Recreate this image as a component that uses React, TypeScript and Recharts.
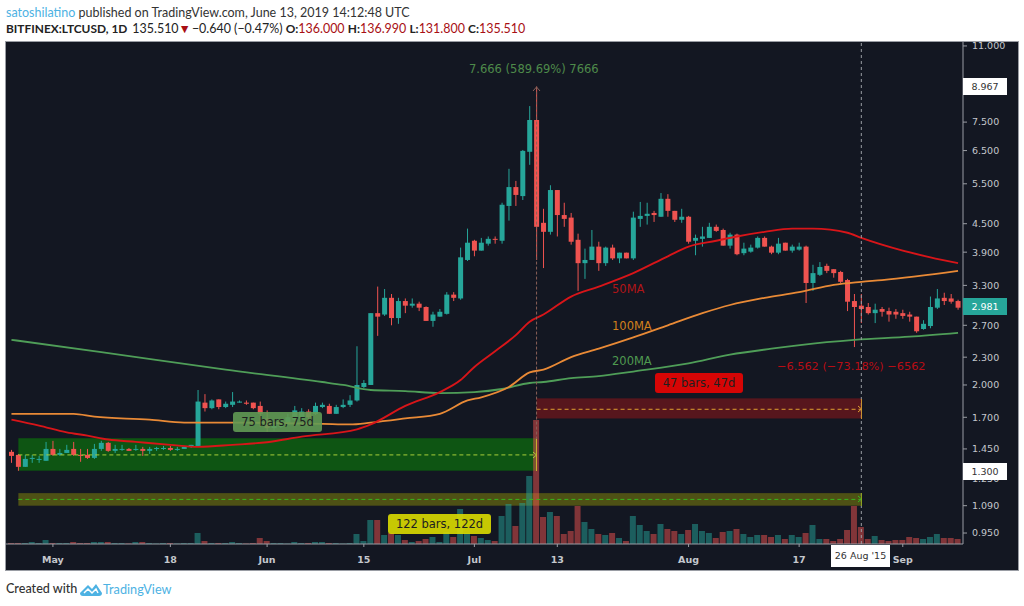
import { ComposedChart, Bar, Cell, Line, XAxis, YAxis, ReferenceArea, ReferenceLine } from 'recharts';

// LTCUSD daily candles, 25 Apr 2015 to 9 Sep 2015
const opens = [
  1.429,1.407,1.325,1.379,1.372,1.366,1.450,1.407,1.421,1.450,
  1.407,1.407,1.386,1.450,1.495,1.436,1.443,1.450,1.443,1.450,
  1.436,1.450,1.450,1.457,1.443,1.450,1.465,1.472,1.83,1.78,
  1.86,1.79,1.81,1.83,1.83,1.83,1.80,1.69,1.61,1.62,
  1.64,1.68,1.69,1.75,1.73,1.79,1.80,1.73,1.79,1.81,
  1.85,1.98,2.00,2.87,2.85,3.10,2.80,3.05,2.98,3.01,
  2.96,2.76,2.82,2.86,3.15,3.09,3.75,4.13,3.93,4.07,
  4.17,4.13,4.92,5.41,5.17,6.46,7.58,4.52,4.32,5.33,
  4.70,4.64,4.15,3.69,3.75,4.01,3.69,3.99,3.78,3.89,
  3.78,4.61,4.68,4.75,4.66,5.10,4.80,4.59,4.66,4.13,
  4.17,4.19,4.43,4.36,4.03,4.26,3.88,3.91,3.99,4.19,
  4.01,3.89,4.09,3.93,3.95,4.01,3.34,3.48,3.64,3.58,
  3.53,3.39,3.05,2.98,2.96,2.87,2.93,2.90,2.89,2.87,
  2.85,2.82,2.65,2.69,2.95,3.10,3.09,3.05,
];
const highs = [
  1.443,1.414,1.407,1.407,1.400,1.502,1.510,1.450,1.480,1.502,
  1.450,1.450,1.487,1.510,1.502,1.480,1.480,1.457,1.480,1.465,
  1.465,1.465,1.472,1.472,1.465,1.472,1.480,1.95,1.91,1.86,
  1.86,1.84,1.93,1.85,1.85,1.83,1.84,1.76,1.66,1.67,
  1.73,1.80,1.78,1.77,1.83,1.83,1.82,1.81,1.86,1.90,
  2.43,2.05,2.87,3.28,3.24,3.16,3.10,3.09,3.09,3.04,
  2.97,2.89,2.93,3.19,3.19,3.99,4.39,4.15,4.19,4.22,
  4.22,5.00,5.93,5.58,6.52,8.13,8.967,4.85,5.46,5.33,
  5.00,4.75,4.28,3.97,4.36,4.11,4.01,4.05,3.89,3.89,
  4.78,5.02,5.00,4.80,5.25,5.22,4.80,4.85,4.68,4.26,
  4.43,4.52,4.48,4.39,4.30,4.28,4.09,4.05,4.22,4.22,
  4.03,4.19,4.09,4.05,4.09,4.03,3.66,3.71,3.68,3.58,
  3.55,3.41,3.16,3.16,3.02,3.01,2.96,2.95,2.93,2.92,
  2.89,2.82,2.77,3.12,3.24,3.18,3.16,3.07,
];
const lows = [
  1.352,1.299,1.325,1.352,1.352,1.366,1.400,1.400,1.421,1.400,
  1.359,1.379,1.379,1.436,1.429,1.421,1.436,1.436,1.436,1.400,
  1.414,1.436,1.443,1.436,1.436,1.450,1.457,1.472,1.75,1.77,
  1.77,1.78,1.79,1.83,1.81,1.77,1.62,1.58,1.59,1.61,
  1.64,1.67,1.68,1.68,1.72,1.78,1.73,1.73,1.78,1.79,
  1.84,1.97,2.00,2.56,2.83,2.70,2.72,2.87,2.95,2.90,
  2.76,2.68,2.82,2.85,3.05,3.07,3.73,3.82,3.93,4.03,
  4.07,4.07,4.57,4.92,5.07,6.05,3.75,3.60,4.26,4.22,
  4.43,4.05,3.21,3.41,3.75,3.55,3.64,3.75,3.69,3.78,
  3.75,4.43,4.48,4.54,4.66,4.66,4.54,4.52,4.07,3.84,
  4.01,4.19,4.32,4.03,3.97,3.84,3.84,3.89,3.97,4.01,
  3.86,3.86,3.93,3.89,3.93,3.02,3.21,3.46,3.51,3.43,
  3.34,2.90,2.42,2.73,2.85,2.73,2.82,2.75,2.79,2.79,
  2.75,2.60,2.64,2.66,2.93,2.99,3.01,2.92,
];
const closes = [
  1.400,1.325,1.379,1.386,1.379,1.450,1.407,1.421,1.443,1.407,
  1.400,1.386,1.450,1.495,1.436,1.450,1.450,1.436,1.450,1.436,
  1.450,1.457,1.457,1.443,1.450,1.465,1.480,1.84,1.78,1.85,
  1.79,1.82,1.84,1.84,1.82,1.78,1.73,1.61,1.63,1.64,
  1.70,1.76,1.75,1.70,1.80,1.81,1.73,1.79,1.81,1.85,
  2.00,2.02,2.87,2.82,3.10,2.80,3.05,2.98,3.01,2.95,
  2.76,2.85,2.89,3.15,3.10,3.80,4.09,3.93,4.09,4.17,
  4.15,4.95,5.41,5.20,6.49,7.58,4.43,4.32,5.33,4.70,
  4.61,4.11,3.69,3.75,4.01,3.69,3.99,3.78,3.89,3.78,
  4.64,4.68,4.73,4.70,5.10,4.80,4.59,4.66,4.11,4.19,
  4.22,4.43,4.34,4.03,4.26,3.86,3.97,3.99,4.19,4.01,
  3.89,4.07,3.93,4.01,4.01,3.34,3.51,3.62,3.55,3.51,
  3.36,3.04,2.96,2.93,2.87,2.92,2.89,2.85,2.85,2.83,
  2.82,2.62,2.72,2.96,3.09,3.05,3.04,2.95,
];
const volumes = [
  1,1,1,2,1,4,1,1,1,2,
  1,1,2,2,2,1,1,0.5,2,2,
  1,0.5,1,1,0.5,1,1,11,3,1,
  1,1,2,1,0.5,1,6,3,1,1,
  0.5,2,1,1,2,2,1,1,0.5,1,
  10,3,24,24,9,11,9,4,2,3,
  5,7,2,12,7,35,11,8,6,4,
  3,28,40,18,41,68,124,27,32,28,
  10,13,38,22,15,10,9,11,6,3,
  28,19,13,10,20,15,13,10,14,20,
  13,11,6,12,13,15,10,7,9,9,
  7,9,5,9,7,11,19,5,5,3,
  5,14,38,17,5,8,4,3,4,4,
  7,6,5,7,10,6,6,5,
];

const ma50Bars = [0,4,8,11,14,18,23,27,32,37,42,50,52,57,62,65,67,70,73,75,77,81,85,90,95,98,102,105,109,113,116,121,123,129,133,137];
const ma50Values = [1.68,1.63,1.576,1.55,1.52,1.502,1.48,1.465,1.48,1.50,1.543,1.60,1.64,1.80,1.93,2.05,2.19,2.37,2.57,2.75,2.85,3.12,3.28,3.51,3.82,4.01,4.13,4.22,4.32,4.39,4.39,4.30,4.19,3.93,3.80,3.69];
const ma100Bars = [0,9,12,20,25,32,45,49,52,57,62,66,68,72,75,77,81,85,90,95,100,104,109,114,119,123,126,137];
const ma100Values = [1.73,1.73,1.705,1.68,1.655,1.655,1.645,1.64,1.655,1.69,1.73,1.85,1.88,1.98,2.13,2.16,2.30,2.40,2.54,2.70,2.87,2.99,3.10,3.19,3.31,3.36,3.39,3.55];
const ma200Bars = [0,13,31,45,48,52,57,62,67,71,75,77,81,85,90,98,104,110,118,122,130,137];
const ma200Values = [2.51,2.36,2.16,2.03,2.00,1.95,1.94,1.92,1.93,1.96,2.02,2.03,2.07,2.09,2.14,2.23,2.33,2.40,2.48,2.51,2.55,2.60];

const priceTicks = [11, 7.5, 6.5, 5.5, 4.5, 3.9, 3.3, 2.7, 2.3, 2, 1.7, 1.45, 1.25, 1.09, 0.95];
const timeTicks = ['2015-05-01', '2015-05-18', '2015-06-01', '2015-06-15', '2015-07-01', '2015-07-13', '2015-08-01', '2015-08-17', '2015-09-01'];
const timeLabels = ['May', '18', 'Jun', '15', 'Jul', '13', 'Aug', '17', 'Sep'];

const UP = '#26a69a';
const DOWN = '#ef5350';
const BG = '#131722';
const AXIS = '#9a9da4';
const TEXT = '#c4c7cd';
const FONT = '"DejaVu Sans", sans-serif';
const HEAD_FONT = 'Lato, sans-serif';

const dayMs = 86400000;
const firstDay = Date.UTC(2015, 3, 25);
const dates = opens.map((_, i) => new Date(firstDay + i * dayMs).toISOString().slice(0, 10));

const data = dates.map((date, i) => {
  const m50 = ma50Bars.indexOf(i);
  const m100 = ma100Bars.indexOf(i);
  const m200 = ma200Bars.indexOf(i);
  return {
    date,
    open: opens[i],
    high: highs[i],
    low: lows[i],
    close: closes[i],
    range: [lows[i], highs[i]],
    volume: volumes[i],
    ma50: m50 >= 0 ? ma50Values[m50] : null,
    ma100: m100 >= 0 ? ma100Values[m100] : null,
    ma200: m200 >= 0 ? ma200Values[m200] : null,
  };
});

// The bar spans low..high on the log axis, open and close are placed inside it
const Candle = (props: any) => {
  const { x, y, width, height, payload } = props;
  const { open, close, high, low } = payload;
  const top = Math.min(y, y + height);
  const span = Math.abs(height);
  const toY = (v: number) => top + ((Math.log(high) - Math.log(v)) / (Math.log(high) - Math.log(low))) * span;
  const color = close >= open ? UP : DOWN;
  const bodyTop = toY(Math.max(open, close));
  const bodyH = Math.max(toY(Math.min(open, close)) - bodyTop, 1);
  const cx = x + width / 2;
  return (
    <g>
      <line x1={cx} x2={cx} y1={top} y2={top + span} stroke={color} strokeWidth={1} />
      <rect x={x} y={bodyTop} width={width} height={bodyH} fill={color} />
    </g>
  );
};

// ReferenceArea spans whole bands; the drawing tool boxes run from bar centre to bar centre
const BAND = 6.91;
const CentredRect = (props: any) => {
  const { x, y, width, height, fill, fillOpacity } = props;
  return <rect x={x + BAND / 2} y={y} width={width - BAND} height={height} fill={fill} fillOpacity={fillOpacity} />;
};

const timeTickFormat = (v: string) => timeLabels[timeTicks.indexOf(v)] ?? '';

const anno = (left: number, top: number, color: string, size = 11.5): React.CSSProperties => ({
  position: 'absolute',
  left,
  top,
  color,
  fontFamily: FONT,
  fontSize: size,
  lineHeight: '16px',
  whiteSpace: 'nowrap',
});

const box = (left: number, top: number, width: number, height: number, background: string): React.CSSProperties => ({
  position: 'absolute',
  left,
  top,
  width,
  height,
  background,
  borderRadius: 3,
  color: '#1c2020',
  fontFamily: FONT,
  fontSize: 11.5,
  lineHeight: `${height}px`,
  textAlign: 'center',
  whiteSpace: 'nowrap',
});

const priceTag = (top: number, background: string, color: string): React.CSSProperties => ({
  position: 'absolute',
  left: 963,
  top,
  width: 44,
  height: 17,
  background,
  color,
  fontFamily: FONT,
  fontSize: 9.5,
  lineHeight: '17px',
  textAlign: 'center',
});

const headBold: React.CSSProperties = { fontSize: 11.9, fontWeight: 700 };
const headRed: React.CSSProperties = { color: '#a80f14' };

export default function App() {
  return (
    <div style={{ position: 'relative', width: 1024, height: 606, background: '#fff', overflow: 'hidden' }}>
      <style>{'body{margin:0}.recharts-surface{overflow:visible}'}</style>

      <div style={{ position: 'absolute', left: 6, top: 4, fontFamily: HEAD_FONT, fontSize: 12.5, lineHeight: '18px', color: '#333', whiteSpace: 'nowrap' }}>
        <span style={{ color: '#4db2e3' }}>satoshilatino</span> published on TradingView.com, June 13, 2019 14:12:48 UTC
      </div>
      <div style={{ position: 'absolute', left: 6, top: 20, fontFamily: HEAD_FONT, fontSize: 12.45, lineHeight: '18px', color: '#222', whiteSpace: 'nowrap' }}>
        <span style={headBold}>BITFINEX:LTCUSD, 1D</span><span style={{ marginLeft: 5 }}>135.510</span><span style={headRed}>▼</span><span style={{ marginLeft: 1 }}>−0.640 (−0.47%)</span> <span style={headBold}>O:</span><span style={headRed}>136.000</span> <span style={headBold}>H:</span><span style={headRed}>136.990</span> <span style={headBold}>L:</span><span style={headRed}>131.800</span> <span style={headBold}>C:</span><span style={headRed}>135.510</span>
      </div>

      <div style={{ position: 'absolute', left: 6, top: 42, width: 1012, height: 528, background: BG, boxShadow: `0 0 0 1px ${AXIS}` }}>
        <ComposedChart width={1012} height={528} data={data} margin={{ top: 0, right: 0, bottom: 0, left: 0 }} barGap={0}>
          <XAxis
            xAxisId="time"
            dataKey="date"
            ticks={timeTicks}
            interval={0}
            tickFormatter={timeTickFormat}
            padding={{ left: 2, right: 1.5 }}
            height={26}
            stroke={AXIS}
            tickSize={3}
            tickMargin={9}
            tick={{ fontSize: 9.5, fill: TEXT, fontFamily: FONT, fontWeight: 600 }}
          />
          <XAxis xAxisId="volTime" dataKey="date" hide padding={{ left: 2, right: 1.5 }} />
          <YAxis
            yAxisId="price"
            orientation="right"
            scale="log"
            domain={[0.899, 11.22]}
            allowDataOverflow
            ticks={priceTicks}
            interval={0}
            width={55}
            stroke={AXIS}
            tickSize={4}
            tickMargin={5}
            tickFormatter={(v: number) => v.toFixed(3)}
            tick={{ fontSize: 9.5, fill: TEXT, fontFamily: FONT, textAnchor: 'start' }}
          />
          <YAxis yAxisId="vol" hide domain={[0, 502]} />

          <ReferenceArea xAxisId="time" yAxisId="price" x1={dates[1]} x2={dates[76]} y1={1.30} y2={1.53} fill="#0c3812" fillOpacity={1} stroke="none" shape={<CentredRect />} />
          <ReferenceArea xAxisId="time" yAxisId="price" x1={dates[76]} x2={dates[123]} y1={1.69} y2={1.87} fill="#57161d" fillOpacity={1} stroke="none" shape={<CentredRect />} />

          <Bar xAxisId="volTime" yAxisId="vol" dataKey="volume" barSize={6} isAnimationActive={false}>
            {data.map((d) => (
              <Cell key={d.date} fill={d.close >= d.open ? UP : DOWN} fillOpacity={0.5} />
            ))}
          </Bar>
          <Line xAxisId="time" yAxisId="price" type="monotone" dataKey="ma200" connectNulls dot={false} stroke="#4f9e58" strokeWidth={1.8} isAnimationActive={false} />
          <Line xAxisId="time" yAxisId="price" type="monotone" dataKey="ma100" connectNulls dot={false} stroke="#e98a36" strokeWidth={1.8} isAnimationActive={false} />
          <Line xAxisId="time" yAxisId="price" type="monotone" dataKey="ma50" connectNulls dot={false} stroke="#d81519" strokeWidth={1.9} isAnimationActive={false} />
          <Bar xAxisId="time" yAxisId="price" dataKey="range" barSize={5} shape={<Candle />} isAnimationActive={false} />

          <ReferenceArea xAxisId="time" yAxisId="price" x1={dates[1]} x2={dates[76]} y1={1.30} y2={1.53} fill="#14a014" fillOpacity={0.28} stroke="none" shape={<CentredRect />} />
          <ReferenceArea xAxisId="time" yAxisId="price" x1={dates[1]} x2={dates[123]} y1={1.09} y2={1.161} fill="#b0b000" fillOpacity={0.38} stroke="none" shape={<CentredRect />} />

          <ReferenceLine xAxisId="time" yAxisId="price" segment={[{ x: dates[1], y: 1.407 }, { x: dates[76], y: 1.407 }]} stroke="#a8cf3a" strokeDasharray="4 3" />
          <ReferenceLine xAxisId="time" yAxisId="price" segment={[{ x: dates[76], y: 1.77 }, { x: dates[123], y: 1.77 }]} stroke="#e0a030" strokeDasharray="4 3" />
          <ReferenceLine xAxisId="time" yAxisId="price" segment={[{ x: dates[1], y: 1.125 }, { x: dates[123], y: 1.125 }]} stroke="#39b81c" strokeDasharray="4 3" />
          <ReferenceLine xAxisId="time" yAxisId="price" segment={[{ x: dates[76], y: 8.967 }, { x: dates[76], y: 1.30 }]} stroke="#8a6058" strokeDasharray="3 2" />
          <ReferenceLine xAxisId="time" yAxisId="price" x={dates[123]} stroke="#9a9da4" strokeDasharray="3 3" />
        </ComposedChart>
      </div>

      {/* arrow heads of the drawing tools */}
      <svg style={{ position: 'absolute', left: 0, top: 0, pointerEvents: 'none' }} width="1024" height="606" fill="none">
        <polyline points="533,91 536.5,87 540,91" stroke="#8a6058" />
        <polyline points="533,452 536.5,455 533,458" stroke="#a8cf3a" />
        <line x1="536.5" x2="536.5" y1="439" y2="471" stroke="#c8b030" />
        <polyline points="858,406 861.5,409 858,412" stroke="#e0a030" />
        <line x1="861.5" x2="861.5" y1="399" y2="419" stroke="#c89030" />
        <polyline points="858,496 861.5,499 858,502" stroke="#39b81c" />
        <line x1="861.5" x2="861.5" y1="493" y2="506" stroke="#8aa020" />
      </svg>

      <div style={anno(469, 61, '#4e8a4a')}>7.666 (589.69%) 7666</div>
      <div style={anno(777, 359, '#b80d14', 11.3)}>−6.562 (−73.18%) −6562</div>
      <div style={anno(612, 281, '#b01518')}>50MA</div>
      <div style={anno(612, 318, '#d0801c')}>100MA</div>
      <div style={anno(612, 353, '#4f9a50')}>200MA</div>

      <div style={box(233, 412, 89, 20, 'rgba(98,154,84,0.9)')}>75 bars, 75d</div>
      <div style={box(388, 514, 103, 20, 'rgba(220,220,0,0.9)')}>122 bars, 122d</div>
      <div style={box(655, 373, 88, 20, '#d60505')}>47 bars, 47d</div>

      <div style={priceTag(78, '#fff', '#333')}>8.967</div>
      <div style={priceTag(298, UP, '#fff')}>2.981</div>
      <div style={priceTag(463, '#fff', '#333')}>1.300</div>
      <div style={{ position: 'absolute', left: 831, top: 545, width: 59, height: 22, background: '#fff', color: '#333', fontFamily: FONT, fontSize: 9.5, lineHeight: '22px', textAlign: 'center', whiteSpace: 'nowrap' }}>26 Aug '15</div>

      <div style={{ position: 'absolute', left: 6, top: 580, fontFamily: HEAD_FONT, fontSize: 12.6, fontWeight: 500, lineHeight: '18px', color: '#333', whiteSpace: 'nowrap' }}>Created with</div>
      <svg style={{ position: 'absolute', left: 79, top: 581 }} width="24" height="16" viewBox="0 0 24 16">
        <path d="M1 12 L9 4 L13 8 L17 3 L23 12 Q23 15 20 15 L4 15 Q1 15 1 12 Z" fill="#4db2e3" />
        <path d="M5 12 L9 8 L13 12 L17 8 L19 12" fill="none" stroke="#fff" strokeWidth="1.5" />
      </svg>
      <div style={{ position: 'absolute', left: 103, top: 580, fontFamily: HEAD_FONT, fontSize: 12.7, lineHeight: '18px', color: '#4db2e3', whiteSpace: 'nowrap' }}>TradingView</div>
    </div>
  );
}
